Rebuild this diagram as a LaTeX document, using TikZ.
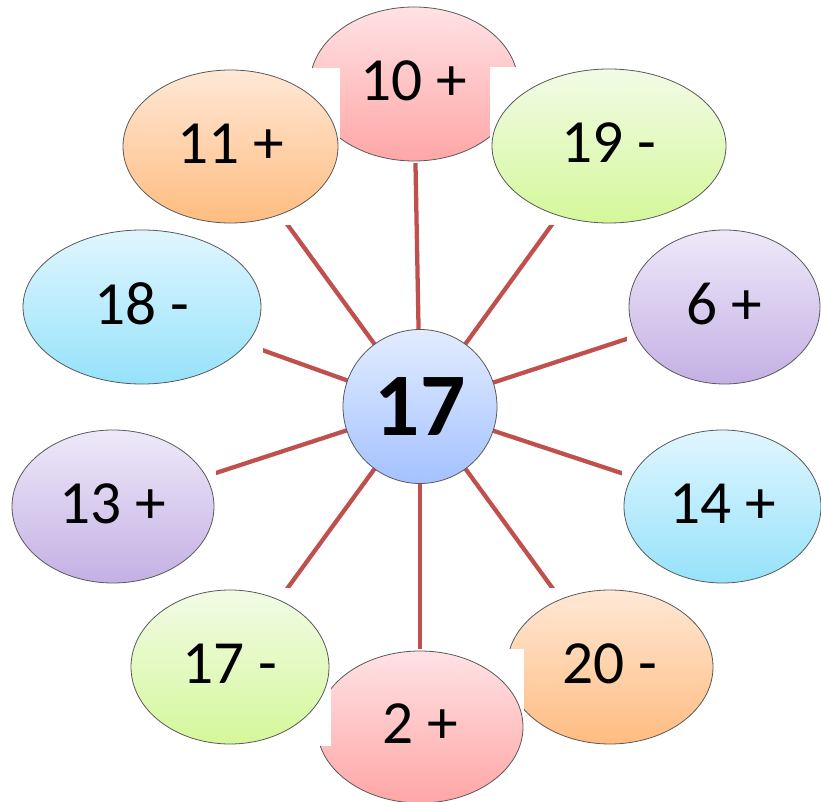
\documentclass[tikz,border=0pt]{standalone}
\usepackage{fontspec}
\setmainfont{Carlito}
\usepackage{tikz}
\usetikzlibrary{shapes.geometric}
\usepackage{xcolor}

\definecolor{spokered}{RGB}{192,80,77}
\definecolor{pinktop}{RGB}{255,226,229}
\definecolor{pinkbot}{RGB}{255,166,166}
\definecolor{orangetop}{RGB}{255,232,214}
\definecolor{orangebot}{RGB}{255,188,128}
\definecolor{greentop}{RGB}{242,251,230}
\definecolor{greenbot}{RGB}{212,248,154}
\definecolor{purpletop}{RGB}{238,233,249}
\definecolor{purplebot}{RGB}{196,176,228}
\definecolor{cyantop}{RGB}{224,246,255}
\definecolor{cyanbot}{RGB}{150,226,250}
\definecolor{bluetop}{RGB}{226,236,255}
\definecolor{bluebot}{RGB}{164,194,255}

\pgfdeclarelayer{background}
\pgfsetlayers{background,main}

\begin{document}
\begin{tikzpicture}[x=0.75pt,y=0.75pt,yscale=-1,xscale=1,
  bubble/.style={ellipse, draw=black!65, line width=0.6pt, inner sep=0pt,
    text depth=4.5pt, font=\fontsize{46}{50}\selectfont},
  spoke/.style={draw=spokered, line width=3.2pt}]
\useasboundingbox (0,0) rectangle (821,802);

%Shape: Ellipse 10 +
\fill [white] (308,5) rectangle (520,163);
\node [bubble, top color=pinktop, bottom color=pinkbot, minimum width=156pt, minimum height=115.5pt] (b10) at (414,84) {10 +};
%Shape: Ellipse 11 +
\fill [white] (121,68) rectangle (340,225);
\node [bubble, top color=orangetop, bottom color=orangebot, minimum width=161.25pt, minimum height=114.75pt] (b11) at (230.5,146.5) {11 +};
%Shape: Ellipse 19 -
\fill [white] (490,67) rectangle (728,225);
\node [bubble, top color=greentop, bottom color=greenbot, minimum width=175.5pt, minimum height=115.5pt] (b19) at (609,146) {19 -};
%Shape: Ellipse 18 -
\fill [white] (21,228) rectangle (263,386);
\node [bubble, top color=cyantop, bottom color=cyanbot, minimum width=178.5pt, minimum height=115.5pt] (b18) at (142,307) {18 -};
%Shape: Ellipse 6 +
\fill [white] (627,228) rectangle (822,386);
\node [bubble, top color=purpletop, bottom color=purplebot, minimum width=143.25pt, minimum height=115.5pt] (b6) at (724.5,307) {6 +};
%Shape: Ellipse 13 +
\fill [white] (10,428) rectangle (216,585);
\node [bubble, top color=purpletop, bottom color=purplebot, minimum width=151.5pt, minimum height=114.75pt] (b13) at (113,506.5) {13 +};
%Shape: Ellipse 14 +
\fill [white] (622,428) rectangle (823,585);
\node [bubble, top color=cyantop, bottom color=cyanbot, minimum width=147.75pt, minimum height=114.75pt] (b14) at (722.5,506.5) {14 +};
%Shape: Ellipse 20 -
\fill [white] (505,588) rectangle (715,746);
\node [bubble, top color=orangetop, bottom color=orangebot, minimum width=154.5pt, minimum height=115.5pt] (b20) at (610,667) {20 -};
%Shape: Ellipse 2 +
\fill [white] (315,649) rectangle (524,805);
\node [bubble, top color=pinktop, bottom color=pinkbot, minimum width=154.5pt, minimum height=114pt] (b2) at (420,727) {2 +};
%Shape: Ellipse 17 -
\fill [white] (129,588) rectangle (331,746);
\node [bubble, top color=greentop, bottom color=greenbot, minimum width=148.5pt, minimum height=115.5pt] (b17) at (230,667) {17 -};

%Shape: Circle
\node [circle, draw=black!65, line width=0.6pt, inner sep=0pt, top color=bluetop, bottom color=bluebot, minimum size=115.5pt, font=\fontsize{67}{70}\selectfont\bfseries] (hub) at (420,406.5) {17};

% Spokes
\begin{pgfonlayer}{background}
\foreach \b in {b10,b11,b19,b18,b6,b13,b14,b20,b2,b17}
  \draw [spoke] (hub.center) -- (\b.center);
\end{pgfonlayer}
\end{tikzpicture}
\end{document}
